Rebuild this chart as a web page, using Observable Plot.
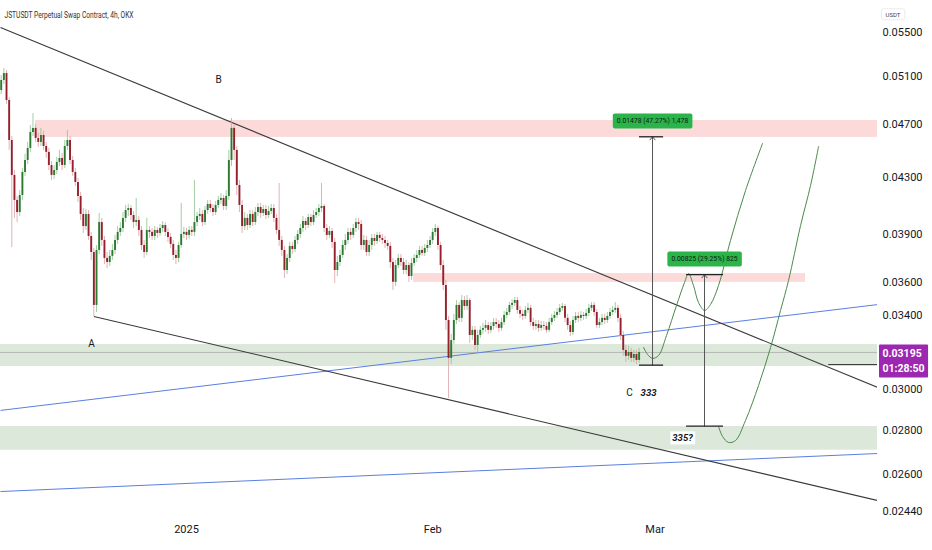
<!DOCTYPE html>
<html><head><meta charset="utf-8">
<script src="https://cdn.jsdelivr.net/npm/d3@7"></script>
<script src="https://cdn.jsdelivr.net/npm/@observablehq/plot@0.6"></script>
<style>body{margin:0;background:#fff;}</style>
</head><body><div id="chart"></div>
<script>
// ---- DATA ----
const titleText = "JSTUSDT Perpetual Swap Contract, 4h, OKX";
const unitText = "USDT";
const firstTime = "2024-12-08T16:00Z";   // first candle (8h candles)
const candleHours = 8;
const firstOpen = 0.04981;
const close = [
.05066,.05126,.04897,.04576,.04313,.04134,.04050,.04169,.04335,.04424,
.04515,.04639,.04671,.04592,.04561,.04615,.04530,.04485,.04386,.04313,
.04349,.04409,.04439,.04386,.04530,.04576,.04424,.04335,.04262,.04162,
.04037,.03955,.04037,.03889,.03785,.03460,.03798,.03982,.03863,.03747,
.03721,.03760,.03798,.03863,.03916,.03942,.04010,.04064,.04078,.04030,
.03982,.03996,.03929,.03830,.03785,.03929,.03916,.03889,.03929,.03909,
.03942,.03962,.03916,.03883,.03837,.03766,.03747,.03830,.03902,.03916,
.03896,.03929,.03916,.03982,.04023,.04037,.03982,.04064,.04106,.04078,
.04050,.04099,.04134,.04148,.04092,.04162,.04424,.04671,.04500,.04240,
.04099,.03955,.04010,.03962,.04037,.03982,.04050,.04085,.04044,.04071,
.04030,.04057,.04078,.04010,.03929,.03863,.03798,.03671,.03747,.03824,
.03804,.03863,.03902,.03942,.03989,.03962,.04016,.03982,.04030,.04050,
.04078,.04092,.03942,.03896,.03922,.03850,.03671,.03721,.03766,.03830,
.03863,.03916,.03896,.03942,.03982,.03969,.03830,.03863,.03785,.03830,
.03876,.03856,.03896,.03876,.03863,.03843,.03824,.03721,.03598,.03702,
.03747,.03721,.03671,.03702,.03634,.03715,.03747,.03766,.03798,.03779,
.03811,.03830,.03863,.03916,.03942,.03830,.03702,.03579,.03373,.03163,
.03260,.03373,.03460,.03385,.03489,.03454,.03489,.03288,.03317,.03233,
.03288,.03317,.03328,.03344,.03317,.03339,.03361,.03350,.03328,.03361,
.03402,.03419,.03460,.03472,.03489,.03431,.03408,.03396,.03431,.03443,
.03361,.03339,.03350,.03328,.03344,.03339,.03317,.03361,.03385,.03402,
.03419,.03443,.03454,.03385,.03344,.03305,.03373,.03396,.03385,.03402,
.03396,.03413,.03443,.03460,.03419,.03344,.03361,.03385,.03373,.03396,
.03419,.03431,.03443,.03385,.03288,.03206,.03174,.03195,.03163,.03184,
.03152,.03195];
const high = [
.05109,.05170,.05152,.04922,.04607,.04349,.04162,.04204,.04364,.04470,
.04561,.04694,.04790,.04702,.04631,.04671,.04647,.04561,.04515,.04416,
.04386,.04447,.04500,.04477,.04576,.04655,.04607,.04454,.04364,.04291,
.04190,.04078,.04071,.04064,.03916,.03811,.03830,.04044,.04010,.03889,
.03785,.03798,.03837,.03896,.03955,.03982,.04050,.04099,.04106,.04099,
.04057,.04148,.04023,.03955,.03863,.04010,.03955,.03942,.03955,.03949,
.03969,.03989,.03982,.03942,.03909,.03863,.03798,.03850,.04113,.03949,
.03942,.03955,.03955,.04276,.04050,.04078,.04064,.04092,.04134,.04134,
.04106,.04127,.04162,.04183,.04169,.04204,.04500,.04750,.04702,.04530,
.04276,.04134,.04050,.04037,.04064,.04064,.04085,.04113,.04113,.04099,
.04099,.04092,.04106,.04106,.04037,.04254,.03889,.03824,.03772,.03850,
.03850,.03889,.03929,.03969,.04023,.04010,.04037,.04037,.04064,.04078,
.04106,.04254,.04106,.03969,.03955,.03942,.03876,.03760,.03798,.03863,
.03902,.03942,.03942,.03969,.04010,.04010,.03996,.03896,.03889,.03863,
.03902,.03902,.03916,.03916,.03902,.03889,.03863,.03850,.03747,.03734,
.03772,.03772,.03747,.03734,.03721,.03747,.03772,.03798,.03824,.03824,
.03837,.03863,.03889,.03942,.03969,.03955,.03850,.03734,.03610,.03396,
.03294,.03408,.03489,.03477,.03519,.03513,.03519,.03501,.03339,.03339,
.03317,.03339,.03356,.03373,.03361,.03361,.03385,.03385,.03373,.03385,
.03425,.03443,.03477,.03495,.03507,.03507,.03454,.03431,.03454,.03472,
.03460,.03385,.03373,.03373,.03367,.03367,.03361,.03385,.03408,.03425,
.03443,.03466,.03472,.03466,.03408,.03367,.03396,.03419,.03419,.03425,
.03419,.03437,.03466,.03477,.03477,.03437,.03385,.03408,.03408,.03419,
.03443,.03454,.03477,.03460,.03408,.03311,.03233,.03228,.03217,.03206,
.03206,.03217];
const low = [
.04947,.05032,.04864,.04500,.03817,.04010,.03982,.04023,.04134,.04306,
.04394,.04485,.04607,.04561,.04523,.04530,.04500,.04439,.04349,.04276,
.04283,.04320,.04379,.04349,.04364,.04500,.04394,.04306,.04233,.04120,
.03996,.03909,.03929,.03863,.03734,.03396,.03419,.03772,.03824,.03708,
.03683,.03696,.03734,.03772,.03837,.03889,.03916,.03982,.04023,.03996,
.03942,.03955,.03889,.03798,.03747,.03766,.03876,.03863,.03863,.03876,
.03889,.03916,.03889,.03850,.03811,.03734,.03708,.03721,.03811,.03876,
.03863,.03870,.03889,.03889,.03955,.03996,.03955,.03962,.04037,.04050,
.04023,.04030,.04078,.04106,.04064,.04064,.04134,.04379,.04424,.04169,
.04050,.03909,.03929,.03929,.03942,.03955,.03962,.04023,.04010,.04023,
.04003,.04010,.04037,.03982,.03902,.03824,.03760,.03622,.03646,.03721,
.03772,.03785,.03837,.03876,.03916,.03929,.03942,.03955,.03962,.04010,
.04023,.04050,.03916,.03863,.03876,.03811,.03591,.03634,.03696,.03747,
.03798,.03837,.03863,.03876,.03916,.03929,.03798,.03798,.03760,.03760,
.03798,.03824,.03837,.03850,.03837,.03811,.03798,.03683,.03549,.03573,
.03683,.03696,.03646,.03646,.03598,.03610,.03696,.03721,.03747,.03760,
.03760,.03785,.03811,.03837,.03889,.03798,.03671,.03549,.03317,.02955,
.03130,.03238,.03350,.03361,.03361,.03431,.03431,.03244,.03260,.03206,
.03190,.03271,.03294,.03305,.03294,.03300,.03317,.03328,.03305,.03311,
.03344,.03385,.03402,.03437,.03454,.03408,.03385,.03373,.03379,.03414,
.03339,.03317,.03317,.03305,.03311,.03317,.03300,.03305,.03344,.03367,
.03385,.03402,.03425,.03361,.03317,.03282,.03288,.03356,.03361,.03367,
.03373,.03379,.03396,.03425,.03396,.03328,.03328,.03344,.03350,.03356,
.03379,.03402,.03414,.03361,.03260,.03174,.03141,.03152,.03141,.03141,
.03130,.03136];

const lastPrice = 0.03195;
const countdown = "01:28:50";
const markLevel = 0.03130, markFrom = "2025-03-22T21:00Z", markTo = "2025-04-10T00:00Z";

const yTicks = [0.055, 0.051, 0.047, 0.043, 0.039, 0.036, 0.034, 0.030, 0.028, 0.026, 0.0244];
const xTickDates = ["2025-01-01", "2025-02-01", "2025-03-01"];
const xTickText = ["2025", "Feb", "Mar"];

// zones (supply = pink, demand = green)
const zoneKind = ["supply", "supply", "demand", "demand"];
const zoneFrom = ["2024-12-12T23:30Z", "2025-01-29T14:00Z", "2024-12-01T00:00Z", "2024-12-01T00:00Z"];
const zoneTo = ["2025-04-10T00:00Z", "2025-03-19T23:00Z", "2025-04-10T00:00Z", "2025-04-10T00:00Z"];
const zoneLo = [0.04600, 0.03598, 0.03120, 0.02707];
const zoneHi = [0.04734, 0.03652, 0.03238, 0.02818];

// trend lines
const lineKind = ["channel", "channel", "support", "support"];
const lineFrom = ["2024-12-08T13:46Z", "2024-12-20T08:00Z", "2024-12-08T13:46Z", "2024-12-08T13:46Z"];
const lineFromP = [0.05542, 0.03396, 0.02896, 0.02524];
const lineTo = ["2025-03-29T00:43Z", "2025-03-29T00:43Z", "2025-03-29T00:43Z", "2025-03-29T00:43Z"];
const lineToP = [0.03011, 0.02486, 0.03465, 0.02692];

// projected paths
const path1T = ["2025-02-27T13:30Z","2025-02-28T01:30Z","2025-02-28T16:30Z","2025-03-01T10:50Z","2025-03-02T10:50Z","2025-03-03T17:00Z","2025-03-04T17:20Z","2025-03-05T05:20Z","2025-03-05T20:20Z","2025-03-06T11:30Z","2025-03-07T05:40Z","2025-03-07T23:50Z","2025-03-09T00:00Z","2025-03-10T12:15Z","2025-03-12T09:35Z","2025-03-14T13:00Z"];
const path1P = [0.03222,0.03184,0.03163,0.03179,0.03288,0.03460,0.03598,0.03652,0.03579,0.03477,0.03431,0.03466,0.03579,0.03863,0.04204,0.04553];
const path2T = ["2025-03-09T00:00Z","2025-03-09T12:15Z","2025-03-10T06:15Z","2025-03-11T03:20Z","2025-03-12T09:35Z","2025-03-14T01:00Z","2025-03-15T13:15Z","2025-03-16T19:30Z","2025-03-17T19:40Z","2025-03-19T08:00Z","2025-03-20T14:10Z","2025-03-21T14:25Z"];
const path2P = [0.02818,0.02771,0.02743,0.02752,0.02847,0.03021,0.03222,0.03431,0.03610,0.03962,0.04240,0.04530];

// measure tools
const measT = ["2025-02-28T16:30Z", "2025-03-07T05:40Z"];
const measLo = [0.03127, 0.02820];
const measHi = [0.04605, 0.03645];
const measCapFrom = ["2025-02-27T01:10Z", "2025-03-04T23:20Z"];
const measCapTo = ["2025-03-02T02:00Z", "2025-03-09T15:10Z"];
const measText = ["0.01478 (47.27%) 1,478", "0.00825 (29.25%) 825"];

// annotations
const noteT = ["2024-12-20T01:00Z", "2025-01-05T00:45Z", "2025-02-25T19:00Z"];
const noteP = [0.03244, 0.05075, 0.02985];
const noteText = ["A", "B", "C"];
const note2T = ["2025-02-28T04:30Z", "2025-03-04T11:15Z"];
const note2P = [0.02985, 0.02762];
const note2Text = ["333", "335?"];

// ---- BUILD ----
const D = s => new Date(s);
const t0 = D(firstTime);
const candles = close.map((c, i) => ({
  t: d3.utcHour.offset(t0, i * candleHours),
  o: i ? close[i - 1] : firstOpen, c, h: high[i], l: low[i]
}));
const up = d => d.c >= d.o, dn = d => d.c < d.o;
const zones = zoneKind.map((k, i) => ({k, a: D(zoneFrom[i]), b: D(zoneTo[i]), lo: zoneLo[i], hi: zoneHi[i]}));
const lines = lineKind.map((k, i) => ({k, a: D(lineFrom[i]), pa: lineFromP[i], b: D(lineTo[i]), pb: lineToP[i]}));
const p1 = path1T.map((t, i) => ({t: D(t), p: path1P[i]}));
const p2 = path2T.map((t, i) => ({t: D(t), p: path2P[i]}));
const meas = measT.map((t, i) => ({t: D(t), lo: measLo[i], hi: measHi[i], a: D(measCapFrom[i]), b: D(measCapTo[i]), s: measText[i]}));
const caps = meas.flatMap(m => [{p: m.lo, a: m.a, b: m.b}, {p: m.hi, a: m.a, b: m.b}]);
const notes = noteT.map((t, i) => ({t: D(t), p: noteP[i], s: noteText[i]}));
const notes2 = note2T.map((t, i) => ({t: D(t), p: note2P[i], s: note2Text[i]}));
const xt = xTickDates.map(D);
const zoneColor = {supply: "#fcdada", demand: "#dce8da"};
const priceTagText = lastPrice.toFixed(5) + "\n" + countdown;

const plot = Plot.plot({
  width: 932, height: 550,
  marginLeft: 0, marginRight: 55, marginTop: 0, marginBottom: 30,
  style: {fontFamily: "Roboto, 'Liberation Sans', sans-serif", fontSize: "11px", background: "#fff", overflow: "visible"},
  x: {type: "utc", domain: [D("2025-01-01"), D("2025-03-01")], range: [186, 654.5]},
  y: {type: "log", domain: [0.0244, 0.055], range: [511, 31.5]},
  marks: [
    Plot.rect(zones, {x1: "a", x2: "b", y1: "lo", y2: "hi", fill: d => zoneColor[d.k], clip: true}),
    Plot.ruleY([lastPrice], {stroke: "#a3a3a3", strokeWidth: 0.7, clip: true}),
    Plot.ruleY([{p: markLevel, a: D(markFrom), b: D(markTo)}], {y: "p", x1: "a", x2: "b", stroke: "#333", strokeWidth: 1, clip: true}),
    Plot.link(lines.filter(d => d.k === "support"), {x1: "a", y1: "pa", x2: "b", y2: "pb", stroke: "#5b7fe0", strokeWidth: 1, clip: true}),
    Plot.link(lines.filter(d => d.k === "channel"), {x1: "a", y1: "pa", x2: "b", y2: "pb", stroke: "#3a3a3a", strokeWidth: 1.1, clip: true}),
    Plot.ruleX(candles, {filter: up, x: "t", y1: "l", y2: "h", stroke: "#8fc28f", strokeWidth: 0.8, clip: true}),
    Plot.ruleX(candles, {filter: dn, x: "t", y1: "l", y2: "h", stroke: "#d9a0a5", strokeWidth: 0.8, clip: true}),
    Plot.ruleX(candles, {filter: up, x: "t", y1: "o", y2: "c", stroke: "#2b7a30", strokeWidth: 1.9, clip: true}),
    Plot.ruleX(candles, {filter: dn, x: "t", y1: "o", y2: "c", stroke: "#951f2b", strokeWidth: 1.9, clip: true}),
    Plot.line(p1, {x: "t", y: "p", curve: "catmull-rom", stroke: "#4b8a4b", strokeWidth: 1}),
    Plot.line(p2, {x: "t", y: "p", curve: "catmull-rom", stroke: "#4b8a4b", strokeWidth: 1}),
    Plot.arrow(meas, {x1: "t", x2: "t", y1: "lo", y2: "hi", stroke: "#555", strokeWidth: 1, headLength: 6, headAngle: 80}),
    Plot.ruleY(caps, {y: "p", x1: "a", x2: "b", stroke: "#222", strokeWidth: 1.3}),
    Plot.text(meas, {x: "t", y: "hi", text: "s", dy: -16, fontSize: 6.8, fill: "#102010"}),
    Plot.text(notes, {x: "t", y: "p", text: "s", fontSize: 10, fill: "#131722"}),
    Plot.text(notes2, {x: "t", y: "p", text: "s", fontSize: 9.5, fontWeight: "bold", fontStyle: "italic", fill: "#131722"}),
    Plot.text([titleText], {frameAnchor: "top-left", dx: 4, dy: 11, textAnchor: "start", fontSize: 8.8, fill: "#333"}),
    Plot.text([unitText], {frameAnchor: "top-right", dx: 8, dy: 12, textAnchor: "start", fontSize: 6, fill: "#444"}),
    Plot.axisY(yTicks, {anchor: "right", tickSize: 0, tickPadding: 5, tickFormat: d => d.toFixed(5), fontSize: 11, color: "#131722", label: null}),
    Plot.axisX(xt, {anchor: "bottom", tickSize: 0, tickPadding: 5, tickFormat: d => xTickText[xt.findIndex(v => +v === +d)], fontSize: 11, color: "#131722", label: null}),
    Plot.text([lastPrice], {y: d => d, frameAnchor: "right", text: () => priceTagText, dx: 5, dy: 7.5, textAnchor: "start", lineHeight: 1.35, fontSize: 10.5, fontWeight: "bold", fill: "#fff"})
  ]
});
document.getElementById("chart").append(plot);

// backgrounds behind label texts (found by their content)
const NS = "http://www.w3.org/2000/svg";
const allTexts = Array.from(plot.querySelectorAll("text"));
function back(match, fill, px, py, opts = {}) {
  allTexts.filter(t => match(t.textContent)).forEach(t => {
    const b = t.getBBox();
    const r = document.createElementNS(NS, "rect");
    r.setAttribute("x", b.x - px);
    r.setAttribute("y", b.y - py);
    r.setAttribute("width", b.width + 2 * px);
    r.setAttribute("height", b.height + 2 * py);
    r.setAttribute("rx", opts.rx ?? 2);
    r.setAttribute("fill", fill);
    if (opts.stroke) r.setAttribute("stroke", opts.stroke);
    if (t.getAttribute("transform")) r.setAttribute("transform", t.getAttribute("transform"));
    t.parentNode.insertBefore(r, t);
  });
}
back(s => measText.includes(s), "#2bb44a", 4, 3.5);
back(s => s === priceTagText.replace("\n", ""), "#9c27b0", 3.5, 3, {rx: 1});
back(s => s === unitText, "#fff", 4, 2, {stroke: "#ececec"});
back(s => s === "335?", "#fff", 2, 1, {rx: 0});
const tt = allTexts.find(t => t.textContent === titleText);
if (tt) { tt.setAttribute("textLength", 129); tt.setAttribute("lengthAdjust", "spacingAndGlyphs"); }
</script>
</body></html>
